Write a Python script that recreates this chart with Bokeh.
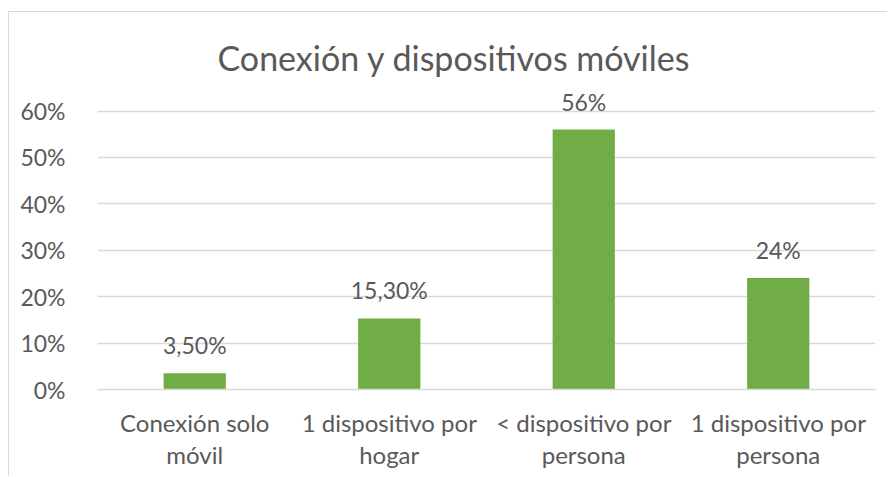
from bokeh.plotting import figure
from bokeh.models import ColumnDataSource, FixedTicker, PrintfTickFormatter, Range1d, FactorRange
from bokeh.embed import file_html
from bokeh.resources import INLINE

categories = ["Conexión solo\nmóvil", "1 dispositivo por\nhogar",
              "< dispositivo por\npersona", "1 dispositivo por\npersona"]
values = [3.5, 15.3, 56, 24]
value_labels = ["3,50%", "15,30%", "56%", "24%"]
y_ticks = [0, 10, 20, 30, 40, 50, 60]

FONT = "Lato"
TXT = "#595959"
GRID = "#d9d9d9"
GREEN = "#70AD47"

src = ColumnDataSource(dict(cat=categories, val=values, lab=value_labels))

p = figure(width=879, height=465, output_backend="svg", toolbar_location=None,
           x_range=FactorRange(*categories, range_padding=0),
           y_range=Range1d(0, 65.5),
           title="Conexión y dispositivos móviles",
           min_border_left=88, min_border_right=13, min_border_bottom=88, min_border_top=73)
p.styles = {"border-left": "1px solid #d9d9d9", "border-top": "1px solid #d9d9d9",
            "margin-top": "11px", "margin-left": "8px"}

p.vbar(x="cat", top="val", width=0.32, source=src, fill_color=GREEN, line_color=None)
p.text(x="cat", y="val", text="lab", source=src, text_align="center", text_baseline="bottom",
       y_offset=-14, text_font_size="23px", text_color=TXT, text_font={"value": FONT})

p.title.text_font = FONT
p.title.text_font_size = "34px"
p.title.text_font_style = "normal"
p.title.text_color = TXT
p.title.align = "left"
p.title.offset = 120
p.title.standoff = 16

p.outline_line_color = None
p.background_fill_color = "white"
p.border_fill_color = "white"

p.xgrid.grid_line_color = None
p.ygrid.grid_line_color = GRID
p.ygrid.grid_line_width = 1.5
p.yaxis.ticker = FixedTicker(ticks=y_ticks)
p.yaxis.formatter = PrintfTickFormatter(format="%d%%")
p.yaxis.axis_line_color = None
p.yaxis.major_tick_line_color = None
p.yaxis.minor_tick_line_color = None
p.yaxis.major_label_standoff = 26
p.yaxis.major_label_text_font = FONT
p.yaxis.major_label_text_font_size = "23px"
p.yaxis.major_label_text_color = TXT

p.xaxis.axis_line_color = GRID
p.xaxis.axis_line_width = 1.5
p.xaxis.major_tick_line_color = None
p.xaxis.minor_tick_line_color = None
p.xaxis.major_label_standoff = 12
p.xaxis.major_label_text_font = FONT
p.xaxis.major_label_text_font_size = "24px"
p.xaxis.major_label_text_color = TXT
p.xaxis.major_label_text_line_height = 1.12

open("out.html", "w").write(file_html(p, INLINE))
